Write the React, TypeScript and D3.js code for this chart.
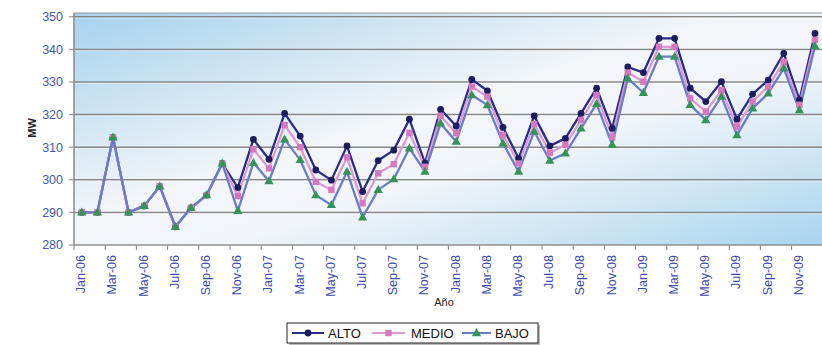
import React from "react";
import * as d3 from "d3";

const MONTHS = ["Jan","Feb","Mar","Apr","May","Jun","Jul","Aug","Sep","Oct","Nov","Dec"];
const YEARS = ["06","07","08","09"];
const categories: string[] = YEARS.flatMap((y) => MONTHS.map((m) => `${m}-${y}`));

const alto = [
  290, 290, 313, 290, 292, 298, 285.6, 291.4, 295.3, 305, 297.6, 312.4,
  306.3, 320.4, 313.4, 303, 299.9, 310.4, 296.4, 305.9, 309.1, 318.6, 305.1, 321.6,
  316.5, 330.8, 327.3, 316.1, 306.6, 319.6, 310.4, 312.7, 320.4, 328.1, 315.8, 334.6,
  332.9, 343.4, 343.4, 328.1, 324, 330.1, 318.6, 326.3, 330.6, 338.8, 324.5, 344.9,
];
const medio = [
  290, 290, 313, 290, 292, 298, 285.6, 291.4, 295.3, 305, 295, 309.4,
  303.5, 316.8, 310, 299.4, 296.9, 306.9, 292.8, 302, 304.8, 314.4, 304, 319.6,
  314.3, 328.6, 325.5, 313.7, 305, 317.1, 308.3, 310.7, 318.3, 326, 313.2, 332.9,
  330.1, 340.8, 340.8, 325, 320.9, 327.5, 316.3, 324, 328.6, 336.2, 323, 342.9,
];
const bajo = [
  290, 290, 313, 290, 292, 298, 285.6, 291.4, 295.3, 305, 290.5, 305.2,
  299.6, 312.4, 306.1, 295.3, 292.3, 302.5, 288.5, 296.9, 300.2, 309.7, 302.5, 317.3,
  311.7, 326, 322.9, 311.2, 302.5, 314.8, 305.9, 308.1, 315.8, 323.3, 310.7, 331.1,
  326.7, 337.8, 337.8, 323, 318.3, 325.5, 313.7, 321.9, 326.5, 334.2, 321.4, 341,
];
const yTicks = [280, 290, 300, 310, 320, 330, 340, 350];
const seriesNames = ["ALTO", "MEDIO", "BAJO"];

const FONT = "'Liberation Sans', Arial, sans-serif";
const W = 822, H = 345;
const left = 74, right = 822.8, top = 13, yTop = 16.8, yBottom = 245;

export default function App() {
  const x = d3.scaleBand<string>().domain(categories).range([left, right]).paddingInner(0).paddingOuter(0);
  const y = d3.scaleLinear().domain([280, 350]).range([yBottom, yTop]);
  const cx = (i: number) => (x(categories[i]) as number) + x.bandwidth() / 2;
  const line = d3.line<number>().x((_, i) => cx(i)).y((v) => y(v));

  const styles = [
    { data: alto, line: "#2a2c88", fill: "#1c1d5e", marker: "circle" },
    { data: medio, line: "#dc9ad2", fill: "#d678bf", marker: "square" },
    { data: bajo, line: "#6b7cc6", fill: "#35935a", marker: "triangle" },
  ];

  const marker = (kind: string, px: number, py: number, fill: string, key: any) => {
    if (kind === "circle") return <circle key={key} cx={px} cy={py} r={3.4} fill={fill} />;
    if (kind === "square") return <rect key={key} x={px - 3.2} y={py - 3.2} width={6.4} height={6.4} fill={fill} />;
    const sym = d3.symbol().type(d3.symbolTriangle).size(38)();
    return <path key={key} d={sym as string} transform={`translate(${px},${py + 0.5})`} fill={fill} />;
  };

  const tickBoundaries = d3.range(0, categories.length + 1, 2).map((k) => left + k * x.bandwidth());

  const legendItems = [
    { name: seriesNames[0], x0: 292, x1: 324, tx: 328, s: styles[0] },
    { name: seriesNames[1], x0: 372, x1: 405, tx: 411, s: styles[1] },
    { name: seriesNames[2], x0: 462, x1: 491, tx: 495, s: styles[2] },
  ];

  return (
    <svg width={W} height={H} style={{ position: "absolute", left: 0, top: 0, background: "#fff" }}>
      <defs>
        <linearGradient id="bg" x1="0" y1="0" x2="1" y2="1">
          <stop offset="0" stopColor="#a6d2ee" />
          <stop offset="0.45" stopColor="#f3f6f9" />
          <stop offset="0.6" stopColor="#f1f5f9" />
          <stop offset="1" stopColor="#a9d5ef" />
        </linearGradient>
      </defs>
      <rect x={left} y={top} width={right - left} height={yBottom - top} fill="url(#bg)" stroke="#9a9a9a" strokeWidth={1} />
      {yTicks.map((t) => (
        <g key={t}>
          {t > 280 && <line x1={left} x2={right} y1={y(t)} y2={y(t)} stroke="#858585" strokeWidth={1.5} />}
          {t > 280 && <line x1={left} x2={right} y1={y(t) + 1.3} y2={y(t) + 1.3} stroke="#ffffff" strokeOpacity={0.6} strokeWidth={0.8} />}
          <line x1={left - 5} x2={left} y1={y(t)} y2={y(t)} stroke="#888" strokeWidth={1} />
          <text x={63} y={y(t)} dy="0.35em" textAnchor="end" fontFamily={FONT} fontSize={12.5} fill="#4556ad">{t}</text>
        </g>
      ))}
      <line x1={left} x2={left} y1={top} y2={yBottom} stroke="#8a8a8a" strokeWidth={1.2} />
      <line x1={left} x2={right} y1={yBottom} y2={yBottom} stroke="#8a8a8a" strokeWidth={1.2} />
      {tickBoundaries.map((bx, k) => (
        <line key={k} x1={bx} x2={bx} y1={yBottom} y2={yBottom + 5} stroke="#888" strokeWidth={1} />
      ))}
      {categories.map((c, i) =>
        i % 2 === 0 ? (
          <text key={c} transform={`translate(${cx(i) - 1},255) rotate(-90)`} dy="0.35em" textAnchor="end"
            fontFamily={FONT} fontSize={12.5} fill="#3b4bb0">{c}</text>
        ) : null
      )}
      {styles.map((s, k) => (
        <path key={k} d={line(s.data) as string} fill="none" stroke={s.line} strokeWidth={2.3} strokeLinejoin="round" />
      ))}
      {styles.map((s, k) => (
        <g key={k}>{s.data.map((v, i) => marker(s.marker, cx(i), y(v), s.fill, i))}</g>
      ))}
      <text transform="translate(32,128) rotate(-90)" dy="0.35em" textAnchor="middle" fontFamily={FONT} fontSize={11} fontWeight="bold" fill="#222">MW</text>
      <text x={444} y={302} dy="0.35em" textAnchor="middle" fontFamily={FONT} fontSize={11} fill="#222">Año</text>
      <rect x={289} y={325} width={251} height={20} fill="#bbb" />
      <rect x={287} y={323} width={251} height={20} fill="#fff" stroke="#222" strokeWidth={1} />
      {legendItems.map((it, k) => (
        <g key={k}>
          <line x1={it.x0} x2={it.x1} y1={333} y2={333} stroke={it.s.line} strokeWidth={2} />
          {marker(it.s.marker, (it.x0 + it.x1) / 2, 333, it.s.fill, "m")}
          <text x={it.tx} y={333} dy="0.36em" fontFamily={FONT} fontSize={13} fill="#111">{it.name}</text>
        </g>
      ))}
    </svg>
  );
}
